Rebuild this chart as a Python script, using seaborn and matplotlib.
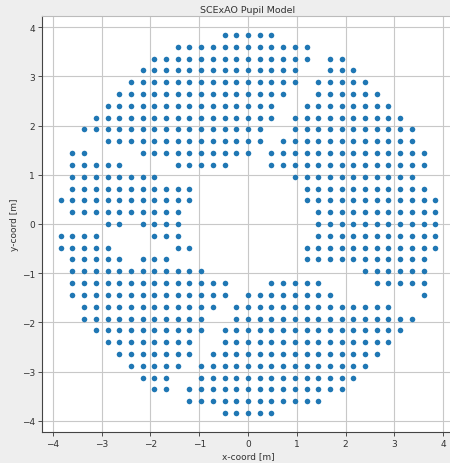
import numpy as np
import pandas as pd
import seaborn as sns
import matplotlib
matplotlib.use("Agg")
import matplotlib.pyplot as plt

# actuator grid pitch [m]
pitch = 0.24

# row index (y = row * pitch), top to bottom
rows = [16, 15, 14, 13, 12, 11, 10, 9, 8, 7, 6, 5, 4, 3, 2, 1, 0,
        -1, -2, -3, -4, -5, -6, -7, -8, -9, -10, -11, -12, -13, -14, -15, -16]

# illuminated column runs (first, last) for each row (x = col * pitch)
runs = [
    [(-2, 2)],
    [(-6, 5)],
    [(-8, 5), (7, 8)],
    [(-9, 4), (7, 9)],
    [(-10, 4), (6, 10)],
    [(-11, 3), (6, 11)],
    [(-12, 2), (5, 12)],
    [(-13, 2), (4, 13)],
    [(-14, 1), (4, 14)],
    [(-12, 1), (3, 14)],
    [(-15, -14), (-9, 0), (2, 15)],
    [(-15, -11), (-6, -2), (2, 15)],
    [(-15, -8), (4, 14)],
    [(-15, -5), (5, 15)],
    [(-16, -5), (5, 16)],
    [(-15, -6), (6, 16)],
    [(-12, -11), (-9, -6), (6, 16)],
    [(-16, -13), (-8, -6), (6, 16)],
    [(-16, -12), (-6, -5), (5, 16)],
    [(-15, -11), (-9, -7), (5, 15)],
    [(-15, -4), (10, 15)],
    [(-15, -2), (2, 6), (11, 15)],
    [(-15, -2), (0, 7), (15, 15)],
    [(-14, -3), (-1, 12)],
    [(-14, -4), (-1, 14)],
    [(-13, -4), (-2, 13)],
    [(-12, -5), (-2, 12)],
    [(-11, -5), (-3, 11)],
    [(-10, -6), (-4, 10)],
    [(-9, -7), (-4, 9)],
    [(-8, -7), (-5, 8)],
    [(-5, 6)],
    [(-2, 2)],
]

ticks = [-4, -3, -2, -1, 0, 1, 2, 3, 4]

xs, ys = [], []
for r, rr in zip(rows, runs):
    for a, b in rr:
        for c in range(a, b + 1):
            xs.append(c * pitch)
            ys.append(r * pitch)
df = pd.DataFrame({"x": xs, "y": ys})

sns.set_style("whitegrid")
plt.rcParams["font.family"] = ["DejaVu Sans"]

fig = plt.figure(figsize=(4.5, 4.64), dpi=100, facecolor="#eeeeee")
ax = fig.add_axes([42 / 450, 31 / 464, 412 / 450, 416 / 464])
sns.scatterplot(data=df, x="x", y="y", ax=ax, s=16, color="#1f77b4",
                linewidth=0)

ax.set_xlim(-4.224, 4.224)
ax.set_ylim(-4.224, 4.224)
ax.set_xticks(ticks)
ax.set_yticks(ticks)
ax.tick_params(labelsize=6.5, colors="#333333", length=3, width=0.6,
               direction="out", left=True, bottom=True, pad=2)
ax.grid(True, color="#c8c8c8", linewidth=0.8)
ax.set_axisbelow(True)
for side in ["left", "bottom"]:
    ax.spines[side].set_color("#444444")
    ax.spines[side].set_linewidth(0.8)
for side in ["top", "right"]:
    ax.spines[side].set_color("#bbbbbb")
    ax.spines[side].set_linewidth(0.8)

ax.set_title("SCExAO Pupil Model", fontsize=6.8, color="#333333", pad=3)
ax.set_xlabel("x-coord [m]", fontsize=6.5, color="#333333", labelpad=2)
ax.set_ylabel("y-coord [m]", fontsize=6.5, color="#333333", labelpad=2)

fig.savefig("out.png", dpi=100, facecolor=fig.get_facecolor())
